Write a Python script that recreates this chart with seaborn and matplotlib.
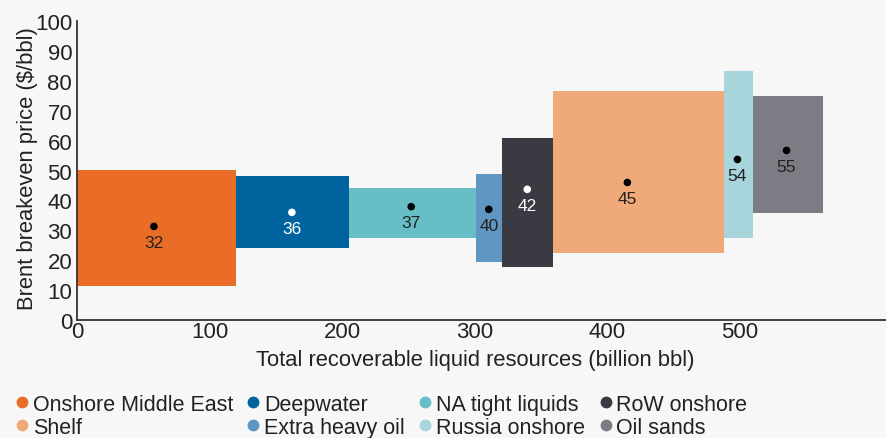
import matplotlib
matplotlib.use("Agg")
import matplotlib.pyplot as plt
from matplotlib.lines import Line2D
import seaborn as sns
import pandas as pd
import numpy as np

# ---- data ----
categories = ["Onshore Middle East", "Deepwater", "NA tight liquids", "Extra heavy oil",
              "RoW onshore", "Shelf", "Russia onshore", "Oil sands"]
resources = [120, 85, 96, 19.5, 38.5, 128.5, 22, 53]          # billion bbl (bar widths)
price_low = [11.3, 24.1, 27.3, 19.4, 17.8, 22.4, 27.4, 35.8]   # $/bbl
price_high = [50.3, 48.0, 44.3, 48.7, 61.0, 76.7, 83.3, 75.0]  # $/bbl
dot_resource = [58, 162, 252, 310.5, 339.5, 415, 498, 535]
dot_price = [31.3, 36.0, 37.9, 37.0, 43.7, 46.0, 53.7, 56.7]
breakeven_labels = [32, 36, 37, 40, 42, 45, 54, 55]
colors = ["#E96D27", "#00639D", "#67BEC6", "#5F96C2", "#393A42", "#F0AA79", "#A8D4DC", "#7D7C85"]
dot_colors = ["black", "white", "black", "black", "white", "black", "black", "black"]
x_ticks = [0, 100, 200, 300, 400, 500]
y_ticks = [0, 10, 20, 30, 40, 50, 60, 70, 80, 90, 100]
legend_order = ["Onshore Middle East", "Shelf", "Deepwater", "Extra heavy oil",
                "NA tight liquids", "Russia onshore", "RoW onshore", "Oil sands"]

sns.set_theme(style="white")
plt.rcParams["font.family"] = ["Liberation Sans", "DejaVu Sans"]
TXT = "#222222"
BG = "#F7F7F7"

fig = plt.figure(figsize=(8.86, 4.39), dpi=100, facecolor=BG)
ax = fig.add_axes([77 / 886, 1 - 321 / 439, 1 - 77 / 886, (321 - 22) / 439])
ax.set_facecolor(BG)

left_edges = np.concatenate([[0], np.cumsum(resources)[:-1]])
heights = np.array(price_high) - np.array(price_low)
ax.bar(left_edges, heights, width=resources, bottom=price_low, align="edge",
       color=colors, edgecolor="none", linewidth=0, zorder=2)

df = pd.DataFrame({"x": dot_resource, "y": dot_price, "cat": categories})
sns.scatterplot(data=df, x="x", y="y", hue="cat", palette=dict(zip(categories, dot_colors)),
                s=30, edgecolor="none", legend=False, ax=ax, zorder=3)

for xv, yv, lab, c in zip(dot_resource, dot_price, breakeven_labels, dot_colors):
    ax.annotate(str(lab), (xv, yv), xytext=(0, -11.5), textcoords="offset points",
                ha="center", va="center", fontsize=12.5, color=("white" if c == "white" else TXT),
                zorder=4)

ax.set_xlim(0, 610)
ax.set_ylim(0, 100)
ax.set_xticks(x_ticks)
ax.set_yticks(y_ticks)
ax.tick_params(axis="both", length=0, labelsize=16, colors=TXT, pad=1)
ax.tick_params(axis="y", pad=3.5)
for s in ["top", "right"]:
    ax.spines[s].set_visible(False)
for s in ["left", "bottom"]:
    ax.spines[s].set_color("#333333")
    ax.spines[s].set_linewidth(1.3)

ax.set_xlabel("Total recoverable liquid resources (billion bbl)", fontsize=15.8, color=TXT)
ax.set_ylabel("Brent breakeven price ($/bbl)", fontsize=15.8, color=TXT)
ax.xaxis.set_label_coords((475 - 77) / (886 - 77), -0.098)
ax.yaxis.set_label_coords(-39 / (886 - 77), 0.51)

cmap = dict(zip(categories, colors))
handles = [Line2D([0], [0], marker="o", linestyle="none", markersize=8.5,
                  markerfacecolor=cmap[c], markeredgecolor="none") for c in legend_order]
fig.legend(handles, legend_order, ncol=4, loc="upper left", bbox_to_anchor=(0.004, 1 - 386 / 439),
           frameon=False, fontsize=15.5, handletextpad=0.05, columnspacing=0.5,
           labelspacing=0.1, borderaxespad=0, handlelength=0.9, labelcolor=TXT)

fig.savefig("out.png", dpi=100, facecolor=BG)
